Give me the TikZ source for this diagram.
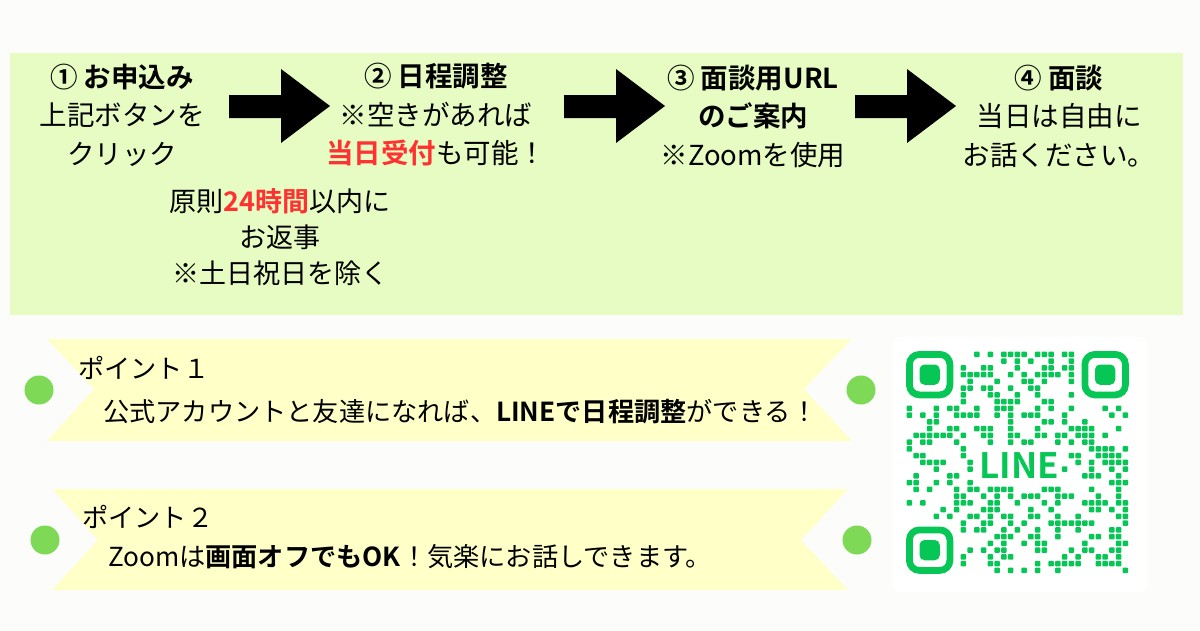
\documentclass[tikz,border=0pt]{standalone}
\usepackage{fontspec}
\setmainfont{Noto Sans CJK JP}[BoldFont={Noto Sans CJK JP Bold}]
\definecolor{pagebg}{RGB}{252,252,250}
\definecolor{panelgreen}{RGB}{230,252,194}
\definecolor{ribbonyellow}{RGB}{255,255,200}
\definecolor{pingreen}{RGB}{126,217,87}
\definecolor{linegreen}{RGB}{6,199,85}
\definecolor{alertred}{RGB}{255,49,49}
\newcommand{\hl}[1]{\textbf{\color{alertred}#1}}
\tikzset{
every picture/.style={x=1pt,y=-1pt},
steptext/.style={align=center, inner sep=0pt, font=\fontsize{27.5}{38.5}\selectfont},
pointtext/.style={anchor=west, inner sep=0pt, font=\fontsize{26.2}{30}\selectfont},
ribbon/.style={fill=ribbonyellow},
pin/.style={fill=pingreen},
module/.style={fill=linegreen, rounded corners=1pt}
}

\begin{document}
\begin{tikzpicture}
    \useasboundingbox (0,0) rectangle (1200,630);
    \fill[pagebg] (0,0) rectangle (1200,630);
    \fill[panelgreen] (10,53) rectangle (1183,315);
    \node[steptext] (apply) at (122,115) {\textbf{① お申込み}\\上記ボタンを\\クリック};
    \node[steptext] (schedule) at (436,115) {\textbf{② 日程調整}\\※空きがあれば\\\hl{当日受付}も可能！};
    \node[steptext] (url) at (753,116) {\textbf{③ 面談用URL}\\\textbf{のご案内}\\※Zoomを使用};
    \node[steptext] (meeting) at (1059,116) {\textbf{④ 面談}\\当日は自由に\\お話ください。};
    \node[steptext, font=\fontsize{27}{36}\selectfont] (reply) at (280,237) {原則\hl{24時間}以内に\\お返事\\※土日祝日を除く};
    \foreach \ax in {229,564,855} {
      \fill (\ax,95) -- ({\ax+52},95) -- ({\ax+52},69) -- ({\ax+101},106) -- ({\ax+52},143) -- ({\ax+52},118) -- (\ax,118) -- cycle;
    }
    \fill[ribbon] (47,339) -- (852,339) -- (804,389) -- (852,441) -- (47,441) -- (94,389) -- cycle;
    \fill[ribbon] (52,489) -- (848,489) -- (801,540) -- (848,590) -- (52,590) -- (98,540) -- cycle;
    \foreach \px/\py in {39/390, 861/390, 45/540, 857/540} {
      \fill[pin] (\px,\py) circle (14.5);
    }
    \node[pointtext] (point1) at (78,368) {ポイント１};
    \node[pointtext] (point1text) at (103,412) {公式アカウントと友達になれば、\textbf{LINEで日程調整}ができる！};
    \node[pointtext] (point2) at (82,517) {ポイント２};
    \node[pointtext] (point2text) at (108,557) {Zoomは\textbf{画面オフでもOK}！気楽にお話しできます。};
    \fill[white, rounded corners=8] (892,337) rectangle (1148,592);
    \foreach \fx/\fy in {906/351, 1081.5/351, 906/526.5} {
      \draw[linegreen, line width=6.75, rounded corners=10] ({\fx+3.4},{\fy+3.4}) rectangle ({\fx+43.9},{\fy+43.9});
      \fill[linegreen, rounded corners=5] ({\fx+13.5},{\fy+13.5}) rectangle ({\fx+33.75},{\fy+33.75});
    }
    \pgfmathsetseed{7}
    \foreach \row in {0,...,32} {
      \foreach \col in {0,...,32} {
        \pgfmathtruncatemacro{\keep}{(rnd<0.4) && !(((\row<8) && (\col<8)) || ((\row<8) && (\col>24)) || ((\row>24) && (\col<8)) || ((\row>13) && (\row<20) && (\col>9) && (\col<23)))}
        \ifnum\keep=1
          \fill[module] ({906+6.75*\col+0.6},{351+6.75*\row+0.6}) rectangle ++(5.55,5.55);
        \fi
      }
    }
    \node[font=\bfseries\fontsize{35}{35}\selectfont, text=linegreen, inner sep=0pt] (qrlogo) at (1019,466) {LINE};
\end{tikzpicture}
\end{document}
